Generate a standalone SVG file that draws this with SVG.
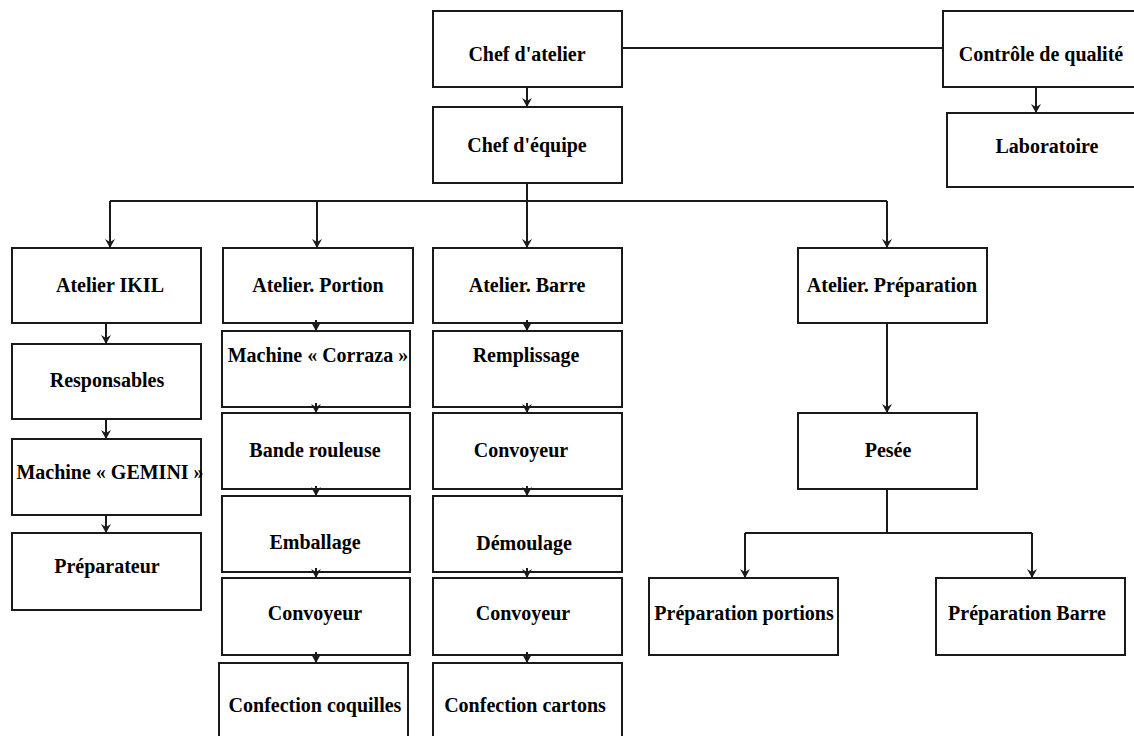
<svg xmlns="http://www.w3.org/2000/svg" width="1134" height="736" viewBox="0 0 1134 736">
<style>
.n rect{fill:#fff;stroke:#1a1a1a;stroke-width:2}
.n text{font-family:"Liberation Serif","Times New Roman",serif;font-weight:bold;font-size:20px;fill:#000;text-anchor:middle}
.c path{fill:none;stroke:#1a1a1a;stroke-width:2}
</style>
<defs>
<marker id="ah" markerWidth="9" markerHeight="10" refX="9" refY="5" orient="auto" markerUnits="userSpaceOnUse" viewBox="0 0 9 10">
<path d="M0,0 L9,5 L0,10 L3,5 Z" fill="#1a1a1a"/>
</marker>
</defs>
<rect width="1134" height="736" fill="#fff"/>
<g class="n" id="chef-atelier"><rect x="433" y="11" width="189" height="76"/><text x="527" y="61">Chef d'atelier</text></g>
<g class="n" id="controle"><rect x="943" y="11" width="196" height="76"/><text x="1041" y="61">Contrôle de qualité</text></g>
<g class="n" id="chef-equipe"><rect x="433" y="107" width="189" height="76"/><text x="527" y="152">Chef d'équipe</text></g>
<g class="n" id="laboratoire"><rect x="947" y="113" width="200" height="74"/><text x="1047" y="153">Laboratoire</text></g>
<g class="n" id="atelier-ikil"><rect x="12" y="248" width="189" height="75"/><text x="110" y="292">Atelier IKIL</text></g>
<g class="n" id="atelier-portion"><rect x="223" y="248" width="190" height="75"/><text x="318" y="292">Atelier. Portion</text></g>
<g class="n" id="atelier-barre"><rect x="433" y="248" width="189" height="75"/><text x="527" y="292">Atelier. Barre</text></g>
<g class="n" id="atelier-preparation"><rect x="798" y="248" width="189" height="75"/><text x="892" y="292">Atelier. Préparation</text></g>
<g class="n" id="responsables"><rect x="12" y="344" width="189" height="75"/><text x="107" y="387">Responsables</text></g>
<g class="n" id="gemini"><rect x="12" y="439" width="189" height="76"/><text x="110" y="479">Machine « GEMINI »</text></g>
<g class="n" id="preparateur"><rect x="12" y="533" width="189" height="77"/><text x="107" y="573">Préparateur</text></g>
<g class="n" id="corraza"><rect x="222" y="331" width="188" height="76"/><text x="318" y="362">Machine « Corraza »</text></g>
<g class="n" id="bande"><rect x="222" y="413" width="188" height="76"/><text x="315" y="457">Bande rouleuse</text></g>
<g class="n" id="emballage"><rect x="222" y="496" width="188" height="76"/><text x="315" y="549">Emballage</text></g>
<g class="n" id="convoyeur-p"><rect x="222" y="578" width="188" height="77"/><text x="315" y="620">Convoyeur</text></g>
<g class="n" id="coquilles"><rect x="219" y="663" width="189" height="80"/><text x="315" y="712">Confection coquilles</text></g>
<g class="n" id="remplissage"><rect x="433" y="331" width="189" height="76"/><text x="526" y="362">Remplissage</text></g>
<g class="n" id="convoyeur-b1"><rect x="433" y="413" width="189" height="76"/><text x="521" y="457">Convoyeur</text></g>
<g class="n" id="demoulage"><rect x="433" y="496" width="189" height="76"/><text x="524" y="550">Démoulage</text></g>
<g class="n" id="convoyeur-b2"><rect x="433" y="578" width="189" height="77"/><text x="523" y="620">Convoyeur</text></g>
<g class="n" id="cartons"><rect x="433" y="663" width="189" height="80"/><text x="525" y="712">Confection cartons</text></g>
<g class="n" id="pesee"><rect x="798" y="413" width="179" height="76"/><text x="888" y="457">Pesée</text></g>
<g class="n" id="prep-portions"><rect x="649" y="578" width="189" height="77"/><text x="744" y="620">Préparation portions</text></g>
<g class="n" id="prep-barre"><rect x="936" y="578" width="189" height="77"/><text x="1027" y="620">Préparation Barre</text></g>
<g class="c">
<path d="M622,48 H943"/>
<path d="M527,87 V107" marker-end="url(#ah)"/>
<path d="M1036,87 V113" marker-end="url(#ah)"/>
<path d="M527,183 V201"/>
<path d="M110,201 H887"/>
<path d="M110,201 V248" marker-end="url(#ah)"/>
<path d="M317,201 V248" marker-end="url(#ah)"/>
<path d="M527,201 V248" marker-end="url(#ah)"/>
<path d="M887,201 V248" marker-end="url(#ah)"/>
<path d="M106,323 V344" marker-end="url(#ah)"/>
<path d="M106,419 V439" marker-end="url(#ah)"/>
<path d="M106,515 V533" marker-end="url(#ah)"/>
<path d="M316,320 V331" marker-end="url(#ah)"/>
<path d="M316,403 V413" marker-end="url(#ah)"/>
<path d="M316,486 V496" marker-end="url(#ah)"/>
<path d="M316,568 V578" marker-end="url(#ah)"/>
<path d="M316,652 V663" marker-end="url(#ah)"/>
<path d="M527,320 V331" marker-end="url(#ah)"/>
<path d="M527,403 V413" marker-end="url(#ah)"/>
<path d="M527,486 V496" marker-end="url(#ah)"/>
<path d="M527,568 V578" marker-end="url(#ah)"/>
<path d="M527,652 V663" marker-end="url(#ah)"/>
<path d="M887,323 V413" marker-end="url(#ah)"/>
<path d="M887,489 V533"/>
<path d="M745,533 H1032"/>
<path d="M745,533 V578" marker-end="url(#ah)"/>
<path d="M1032,533 V578" marker-end="url(#ah)"/>
</g>
</svg>
